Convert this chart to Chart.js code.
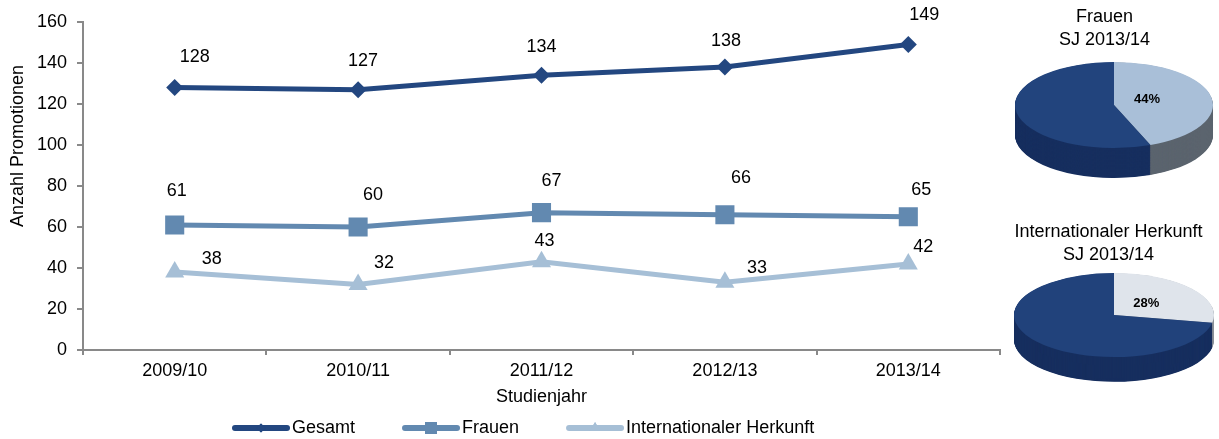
<!DOCTYPE html>
<html>
<head>
<meta charset="utf-8">
<script src="https://cdn.jsdelivr.net/npm/chart.js@4.4.1/dist/chart.umd.min.js"></script>
<style>
  body { margin: 0; background: #fff; }
  #wrap { position: relative; width: 1219px; height: 439px; }
  canvas { position: absolute; }
</style>
</head>
<body>
<div id="wrap">
  <canvas id="line" width="1003" height="439" style="left:0;top:0"></canvas>
  <canvas id="pie1" width="229" height="210" style="left:990px;top:0"></canvas>
  <canvas id="pie2" width="221" height="227" style="left:998px;top:212px"></canvas>
</div>
<script>
const years = ['2009/10', '2010/11', '2011/12', '2012/13', '2013/14'];
const gesamt = [128, 127, 134, 138, 149];
const frauen = [61, 60, 67, 66, 65];
const international = [38, 32, 43, 33, 42];
const seriesNames = ['Gesamt', 'Frauen', 'Internationaler Herkunft'];
const yTicks = [0, 20, 40, 60, 80, 100, 120, 140, 160];

const frauenShare = [44, 56];      // Frauen, Männer (SJ 2013/14)
const intlShare = [28, 72];        // international, übrige (SJ 2013/14)

const colDark = '#234780';
const colMid = '#6289b0';
const colLight = '#a6bfd6';
const axisGray = '#898989';
const FONT = "'Liberation Sans', Arial, sans-serif";

Chart.defaults.font.family = FONT;
Chart.defaults.font.size = 18;
Chart.defaults.color = '#000';

// label nudges (px) relative to each point
const labelNudge = [
  [[20, -31], [5, -29], [0, -28], [1, -26], [16, -30]],
  [[2, -34], [15, -32], [10, -32], [16, -37], [13, -27]],
  [[37, -13], [26, -21], [3, -21], [32, -14], [15, -17]]
];

const pointLabels = {
  id: 'pointLabels',
  afterDatasetsDraw(chart) {
    const ctx = chart.ctx;
    ctx.save();
    ctx.font = '18px ' + FONT;
    ctx.fillStyle = '#000';
    ctx.textAlign = 'center';
    ctx.textBaseline = 'middle';
    chart.data.datasets.forEach((ds, i) => {
      chart.getDatasetMeta(i).data.forEach((pt, j) => {
        const n = labelNudge[i][j];
        ctx.fillText(String(ds.data[j]), pt.x + n[0], pt.y + n[1]);
      });
    });
    ctx.restore();
  }
};

// y title and legend (line + marker samples)
const extras = {
  id: 'extras',
  afterDraw(chart) {
    const ctx = chart.ctx;
    ctx.save();
    ctx.font = '18px ' + FONT;
    ctx.fillStyle = '#000';
    ctx.translate(18, 146);
    ctx.rotate(-Math.PI / 2);
    ctx.textAlign = 'center';
    ctx.textBaseline = 'middle';
    ctx.fillText('Anzahl Promotionen', 0, 0);
    ctx.restore();

    const marks = [
      { style: 'rectRot', r: 4.5 },
      { style: 'rect', r: 8.5 },
      { style: 'triangle', r: 6 }
    ];
    let x = 232;
    const y = 428;
    ctx.save();
    ctx.font = '18px ' + FONT;
    ctx.textBaseline = 'middle';
    ctx.textAlign = 'left';
    chart.data.datasets.forEach((ds, i) => {
      ctx.strokeStyle = ds.borderColor;
      ctx.fillStyle = ds.borderColor;
      ctx.lineWidth = 6;
      ctx.lineCap = 'round';
      ctx.beginPath();
      ctx.moveTo(x + 3, y);
      ctx.lineTo(x + 55, y);
      ctx.stroke();
      Chart.helpers.drawPoint(ctx, { pointStyle: marks[i].style, radius: marks[i].r, rotation: 0, borderWidth: 0 }, x + 29, y);
      ctx.fill();
      ctx.fillStyle = '#000';
      ctx.fillText(ds.label, x + 60, y);
      x += 60 + ctx.measureText(ds.label).width + 47;
    });
    ctx.restore();
  }
};

new Chart(document.getElementById('line'), {
  type: 'line',
  data: {
    labels: years,
    datasets: [
      { label: seriesNames[0], data: gesamt, borderColor: colDark, backgroundColor: colDark,
        borderWidth: 5, pointStyle: 'rectRot', pointRadius: 8.5, pointBorderWidth: 0 },
      { label: seriesNames[1], data: frauen, borderColor: colMid, backgroundColor: colMid,
        borderWidth: 5, pointStyle: 'rect', pointRadius: 13.5, pointBorderWidth: 0 },
      { label: seriesNames[2], data: international, borderColor: colLight, backgroundColor: colLight,
        borderWidth: 5, pointStyle: 'triangle', pointRadius: 11, pointBorderWidth: 0 }
    ]
  },
  options: {
    responsive: false,
    animation: false,
    layout: { autoPadding: false, padding: { left: 0, right: 3, top: 22, bottom: 31 } },
    plugins: { legend: { display: false }, tooltip: { enabled: false } },
    scales: {
      x: {
        offset: true,
        grid: { offset: true, drawOnChartArea: false, drawTicks: true, tickLength: 5, color: axisGray, lineWidth: 2 },
        border: { display: true, color: axisGray, width: 2 },
        ticks: { padding: 5, color: '#000' },
        title: { display: true, text: 'Studienjahr', padding: 0, font: { size: 18 } },
        afterFit(s) { s.height = 58; }
      },
      y: {
        min: 0,
        max: 160,
        afterBuildTicks(s) { s.ticks = yTicks.map(v => ({ value: v })); },
        grid: { drawOnChartArea: false, drawTicks: true, tickLength: 6, color: axisGray, lineWidth: 2 },
        border: { display: true, color: axisGray, width: 2 },
        ticks: { padding: 10, color: '#000' },
        afterFit(s) { s.width = 83; }
      }
    }
  },
  plugins: [pointLabels, extras]
});

// flattened pie with extruded side
const pie3d = {
  id: 'pie3d',
  beforeDatasetsDraw(chart, args, o) {
    const arcs = chart.getDatasetMeta(0).data;
    const a0 = arcs[0];
    const r = a0.outerRadius;
    const sx = o.rx / r, sy = o.ry / r;
    const ctx = chart.ctx;
    ctx.save();
    ctx.translate(o.cx, o.cy);
    ctx.scale(sx, sy);
    ctx.translate(-a0.x, -a0.y);
    const steps = Math.round(o.depth / sy);
    for (let d = steps; d > 0; d--) {
      arcs.forEach((arc, i) => {
        ctx.beginPath();
        ctx.moveTo(arc.x, arc.y + d);
        ctx.arc(arc.x, arc.y + d, arc.outerRadius, arc.startAngle, arc.endAngle);
        ctx.closePath();
        ctx.fillStyle = o.sides[i];
        ctx.fill();
      });
    }
  },
  afterDatasetsDraw(chart, args, o) {
    const ctx = chart.ctx;
    ctx.restore();
    const arc = chart.getDatasetMeta(0).data[0];
    const mid = (arc.startAngle + arc.endAngle) / 2;
    const lx = o.cx + Math.cos(mid) * o.rx * o.labelR;
    const ly = o.cy + Math.sin(mid) * o.ry * o.labelR + o.labelDy;
    ctx.save();
    ctx.font = 'bold 13px ' + FONT;
    ctx.fillStyle = '#000';
    ctx.textAlign = 'center';
    ctx.textBaseline = 'middle';
    ctx.fillText(chart.data.datasets[0].data[0] + '%', lx, ly);
    ctx.restore();
  }
};

function makePie(id, title, values, tops, sides, geo, padTop) {
  new Chart(document.getElementById(id), {
    type: 'pie',
    data: {
      labels: ['a', 'b'],
      datasets: [{ data: values, backgroundColor: tops, borderWidth: 0 }]
    },
    options: {
      responsive: false,
      animation: false,
      plugins: {
        legend: { display: false },
        tooltip: { enabled: false },
        title: { display: true, text: title, color: '#000',
          font: { size: 18, weight: 'normal', lineHeight: 1.25 }, padding: { top: padTop, bottom: 4 } },
        pie3d: Object.assign({ sides: sides }, geo)
      }
    },
    plugins: [pie3d]
  });
}

makePie('pie1', ['Frauen', 'SJ 2013/14'], frauenShare,
  ['#a9bfd8', '#22447d'], ['#5b646e', '#172f5f'],
  { cx: 124, cy: 105, rx: 99, ry: 43, depth: 30, labelR: 0.34, labelDy: -3 }, 6);

makePie('pie2', ['Internationaler Herkunft', 'SJ 2013/14'], intlShare,
  ['#dfe4eb', '#21427b'], ['#8a9099', '#172f5f'],
  { cx: 116, cy: 103, rx: 100, ry: 42, depth: 25, labelR: 0.42, labelDy: 0 }, 9);
</script>
</body>
</html>
